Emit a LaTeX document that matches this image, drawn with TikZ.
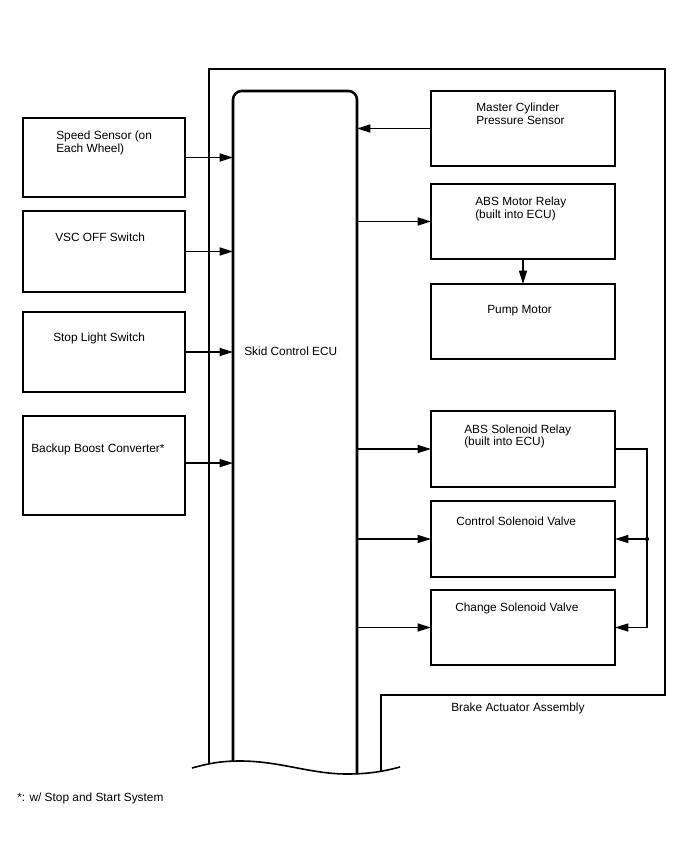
\documentclass[tikz,border=0pt]{standalone}
\usepackage{fontspec}
\setmainfont{Liberation Sans}
\usetikzlibrary{arrows.meta}
\begin{document}
\begin{tikzpicture}[x=0.75pt,y=-0.75pt,
  box/.style={draw, line width=1.4pt, inner sep=0pt, outer sep=0pt, anchor=north west},
  lbox/.style={box, minimum width=121.5pt},
  rbox/.style={box, minimum width=138pt},
  lbl/.style={anchor=base west, inner sep=0pt, font=\fontsize{8.9}{9.45}\selectfont},
  wire/.style={line width=1pt, -{Triangle[length=10pt,width=6pt]}},
  frame/.style={line width=1.5pt},
  eculine/.style={line width=1.9pt, rounded corners=6.5pt}]
\useasboundingbox (0,0) rectangle (688,852);

% Outer brake actuator assembly frame
\draw[frame] (209,764) -- (209,69) -- (665,69) -- (665,695) -- (381,695) -- (381,772);
\node[lbl] (baa) at (451,711) {Brake Actuator Assembly};

% ECU
\node[anchor=north west, inner sep=0pt, outer sep=0pt, minimum width=93pt, minimum height=512pt] (ecu) at (233,91) {};
\draw[eculine] (233,761) -- (233,91) -- (357,91) -- (357,774);
\node[lbl] (ecut) at (244,355) {Skid Control ECU};

% wavy break line
\draw[line width=1.2pt] (192,768) .. controls (210,763) and (222,761) .. (240,761)
   .. controls (280,761) and (310,774) .. (347,774)
   .. controls (370,774) and (385,771) .. (400,767);

% Left boxes
\node[lbox, minimum height=59.25pt] (ss) at (23,118) {};
\node[lbl] (sst) at (56,140) {\begin{tabular}[t]{@{}l@{}}Speed Sensor (on\\Each Wheel)\end{tabular}};
\node[lbox, minimum height=60.75pt] (vsc) at (23,211) {};
\node[lbl] (vsct) at (55,242) {VSC OFF Switch};
\node[lbox, minimum height=60pt] (sls) at (23,312) {};
\node[lbl] (slst) at (53,341) {Stop Light Switch};
\node[lbox, minimum height=74.25pt] (bbc) at (23,416) {};
\node[lbl] (bbct) at (31,452.5) {Backup Boost Converter*};

\draw[wire] (ss.east) -- (ss.east -| ecu.west);
\draw[wire] (vsc.east) -- (vsc.east -| ecu.west);
\draw[wire] (sls.east) -- (sls.east -| ecu.west);
\draw[wire] ([yshift=1.8pt]bbc.east) -- ([yshift=1.8pt]bbc.east -| ecu.west);

% Right boxes
\node[rbox, minimum height=56.25pt] (mc) at (431,91) {};
\node[lbl] (mct) at (476,112) {\begin{tabular}[t]{@{}l@{}}Master Cylinder\\Pressure Sensor\end{tabular}};
\node[rbox, minimum height=56.25pt] (amr) at (431,184) {};
\node[lbl] (amrt) at (475,206) {\begin{tabular}[t]{@{}l@{}}ABS Motor Relay\\(built into ECU)\end{tabular}};
\node[rbox, minimum height=56.25pt] (pm) at (431,284) {};
\node[lbl] (pmt) at (487,313) {Pump Motor};
\node[rbox, minimum height=57pt] (asr) at (431,411) {};
\node[lbl] (asrt) at (464,433.3) {\begin{tabular}[t]{@{}l@{}}ABS Solenoid Relay\\(built into ECU)\end{tabular}};
\node[rbox, minimum height=57pt] (csv) at (431,501) {};
\node[lbl] (csvt) at (456,525) {Control Solenoid Valve};
\node[rbox, minimum height=56.25pt] (chv) at (431,590) {};
\node[lbl] (chvt) at (455,611) {Change Solenoid Valve};

\draw[wire] (mc.west) -- (mc.west -| ecu.east);
\draw[wire] (amr.west -| ecu.east) -- (amr.west);
\draw[wire] (amr.south) -- (pm.north);
\draw[wire] (asr.west -| ecu.east) -- (asr.west);
\draw[wire] (csv.west -| ecu.east) -- (csv.west);
\draw[wire] (chv.west -| ecu.east) -- (chv.west);

% Solenoid relay feed
\coordinate (jb) at (647,627.5);
\coordinate (jm) at (647,539);
\draw[wire] (asr.east) -| (jb) -- (chv.east);
\draw[wire] (jm) -- (csv.east);
\fill (jm) circle (1.6pt);

% Footnote
\node[lbl] (fn) at (17,801) {*: w/ Stop and Start System};
\end{tikzpicture}
\end{document}
